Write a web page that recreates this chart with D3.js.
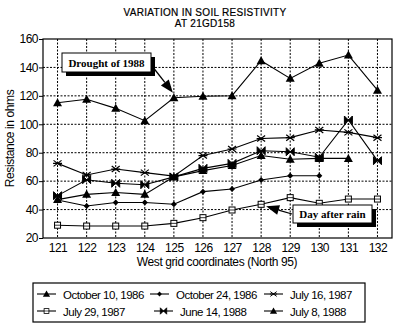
<!DOCTYPE html>
<html>
<head>
<meta charset="utf-8">
<script src="https://cdn.jsdelivr.net/npm/d3@7"></script>
<style>
  body { margin: 0; background: #fff; }
  svg text { font-family: "Liberation Sans", Arial, sans-serif; fill: #000; }
  .grid line { stroke: #000; stroke-width: 1; stroke-dasharray: 2,1.5; }
  .note text { font-family: "Liberation Serif", "Times New Roman", serif; font-weight: bold; font-size: 11px; }
</style>
</head>
<body>
<div id="chart"></div>
<script>
// ---- data ----
const coords = ['121', '122', '123', '124', '125', '126', '127', '128', '129', '130', '131', '132'];
const yTicks = [20, 40, 60, 80, 100, 120, 140, 160];

const oct10_1986 = [47, 50.7, 52, 50.7, 63, 67.4, 71, 78, 75.4, 76, 76];
const oct24_1986 = [46.7, 42.5, 45, 45, 43.7, 52.6, 54.5, 60.8, 63.8, 63.8];
const jul16_1987 = [72.5, 64.3, 68.5, 66, 63.5, 78, 82.6, 90, 90.6, 96, 94.3, 90.6];
const jul29_1987 = [29, 28.4, 28.4, 28.4, 30.3, 34.3, 39.7, 43.7, 48.4, 44.4, 47.4, 47.4];
const jun14_1988 = [49.8, 61, 58.5, 57.5, 63, 69, 72.5, 81.4, 80.7, 76.8, 103, 74.4];
const jul8_1988  = [115.2, 117.6, 111.2, 102.5, 118.7, 119.7, 120.1, 144.7, 132.3, 142.9, 148.7, 124];

const seriesNames = ['October 10, 1986', 'October 24, 1986', 'July 16, 1987',
                     'July 29, 1987', 'June 14, 1988', 'July 8, 1988'];
const seriesValues = [oct10_1986, oct24_1986, jul16_1987, jul29_1987, jun14_1988, jul8_1988];
const seriesMarks = ['triangle', 'dot', 'star', 'square', 'bowtie', 'triangle'];

// ---- layout ----
const W = 400, H = 333;
const margin = { left: 43, right: 8, top: 39, bottom: 95 };

const svg = d3.select('#chart').append('svg')
    .attr('width', W)
    .attr('height', H);

const x = d3.scalePoint()
    .domain(coords)
    .range([margin.left, W - margin.right])
    .padding(0.5);

const y = d3.scaleLinear()
    .domain([20, 160])
    .range([H - margin.bottom, margin.top]);

// title
svg.append('text')
    .attr('x', 205).attr('y', 16)
    .attr('text-anchor', 'middle')
    .style('font-size', '10px')
    .style('letter-spacing', '0.3px')
    .style('stroke', '#000').style('stroke-width', 0.2)
    .text('VARIATION IN SOIL RESISTIVITY');
svg.append('text')
    .attr('x', 205).attr('y', 27)
    .attr('text-anchor', 'middle')
    .style('font-size', '10px')
    .style('letter-spacing', '0.3px')
    .style('stroke', '#000').style('stroke-width', 0.2)
    .text('AT 21GD158');

// grid
const grid = svg.append('g').attr('class', 'grid');
grid.selectAll('.vg')
    .data(coords)
    .enter().append('line')
    .attr('x1', d => x(d)).attr('x2', d => x(d))
    .attr('y1', y(160)).attr('y2', y(20));
grid.selectAll('.hg')
    .data(yTicks.slice(1, -1))
    .enter().append('line')
    .attr('x1', margin.left).attr('x2', W - margin.right)
    .attr('y1', d => y(d)).attr('y2', d => y(d));

// frame
svg.append('rect')
    .attr('x', margin.left).attr('y', margin.top)
    .attr('width', W - margin.right - margin.left)
    .attr('height', y(20) - y(160))
    .attr('fill', 'none')
    .attr('stroke', '#000')
    .attr('stroke-width', 1.2);

// axes
const yAxis = svg.append('g')
    .attr('transform', `translate(${margin.left},0)`)
    .call(d3.axisLeft(y).tickValues(yTicks).tickSize(4).tickPadding(1));
yAxis.select('.domain').remove();
yAxis.selectAll('text').style('font-size', '12px').style('letter-spacing', '-0.5px');

const xAxis = svg.append('g')
    .attr('transform', `translate(0,${y(20)})`)
    .call(d3.axisBottom(x).tickSize(0).tickPadding(5));
xAxis.select('.domain').remove();
xAxis.selectAll('text').style('font-size', '12px').style('letter-spacing', '-0.5px');

svg.append('text')
    .attr('transform', `translate(14,${(y(20) + y(160)) / 2}) rotate(-90)`)
    .attr('text-anchor', 'middle')
    .style('font-size', '12px')
    .style('letter-spacing', '-0.4px')
    .text('Resistance in ohms');

svg.append('text')
    .attr('x', 217).attr('y', 266)
    .attr('text-anchor', 'middle')
    .style('font-size', '12px')
    .style('letter-spacing', '-0.4px')
    .text('West grid coordinates (North 95)');

// markers
function drawMark(g, kind) {
    if (kind === 'triangle') {
        g.append('path').attr('d', 'M0,-4.5L4.5,3.5L-4.5,3.5Z').attr('fill', '#000');
    } else if (kind === 'dot') {
        g.append('path').attr('d', 'M0,-3L3,0L0,3L-3,0Z').attr('fill', '#000');
    } else if (kind === 'star') {
        g.append('path').attr('d', 'M-4,-3L4,3M-4,3L4,-3M-4.5,0L4.5,0')
            .attr('stroke', '#000').attr('stroke-width', 1.2).attr('fill', 'none');
    } else if (kind === 'square') {
        g.append('rect').attr('x', -3).attr('y', -3).attr('width', 6).attr('height', 6)
            .attr('fill', '#fff').attr('stroke', '#000').attr('stroke-width', 1);
        g.append('line').attr('x1', -3).attr('x2', 3).attr('y1', 0).attr('y2', 0)
            .attr('stroke', '#000').attr('stroke-width', 0.8);
    } else if (kind === 'bowtie') {
        g.append('path').attr('d', 'M-4,-4L4,4L4,-4L-4,4Z')
            .attr('fill', '#000').attr('stroke', '#000').attr('stroke-width', 1);
    }
}

const line = d3.line()
    .x((d, i) => x(coords[i]))
    .y(d => y(d));

seriesValues.forEach((vals, si) => {
    svg.append('path')
        .attr('d', line(vals))
        .attr('fill', 'none')
        .attr('stroke', '#000')
        .attr('stroke-width', 1.1);
    vals.forEach((v, i) => {
        const g = svg.append('g').attr('transform', `translate(${x(coords[i])},${y(v)})`);
        drawMark(g, seriesMarks[si]);
    });
});

// annotations
function note(bx, by, bw, bh, label, tail, tip) {
    const g = svg.append('g').attr('class', 'note');
    // arrow
    const ang = Math.atan2(tip[1] - tail[1], tip[0] - tail[0]);
    const hl = 13, hw = 5;
    const bxp = tip[0] - hl * Math.cos(ang), byp = tip[1] - hl * Math.sin(ang);
    g.append('line')
        .attr('x1', tail[0]).attr('y1', tail[1])
        .attr('x2', bxp).attr('y2', byp)
        .attr('stroke', '#000').attr('stroke-width', 1.3);
    g.append('path')
        .attr('d', `M${tip[0]},${tip[1]}L${bxp + hw * Math.sin(ang)},${byp - hw * Math.cos(ang)}L${bxp - hw * Math.sin(ang)},${byp + hw * Math.cos(ang)}Z`)
        .attr('fill', '#000');
    g.append('rect')
        .attr('x', bx + 4).attr('y', by + 4).attr('width', bw).attr('height', bh)
        .attr('fill', '#000');
    g.append('rect')
        .attr('x', bx).attr('y', by).attr('width', bw).attr('height', bh)
        .attr('fill', '#fff').attr('stroke', '#000').attr('stroke-width', 1);
    g.append('text')
        .attr('x', bx + bw / 2).attr('y', by + bh / 2 + 4)
        .attr('text-anchor', 'middle')
        .text(label);
}

note(62, 53, 89, 19, 'Drought of 1988', [152, 66], [x('125') - 1, y(jul8_1988[4]) - 5]);
note(293, 205, 79, 18, 'Day after rain', [292, 214], [x('128') + 5, y(jul29_1987[7]) + 2]);

// legend
const legend = svg.append('g');
legend.append('rect')
    .attr('x', 33).attr('y', 283).attr('width', 332).attr('height', 39)
    .attr('fill', '#fff').attr('stroke', '#000').attr('stroke-width', 1.2);

const legCols = [37, 150, 264];
seriesNames.forEach((name, i) => {
    const cx = legCols[i % 3] + (i === 4 ? 4 : 0);
    const cy = i < 3 ? 294 : 311;
    const g = legend.append('g');
    g.append('line')
        .attr('x1', cx).attr('x2', cx + 19)
        .attr('y1', cy).attr('y2', cy)
        .attr('stroke', '#000').attr('stroke-width', 1.1);
    const m = g.append('g').attr('transform', `translate(${cx + 9.5},${cy}) scale(0.8)`);
    drawMark(m, seriesMarks[i]);
    g.append('text')
        .attr('x', cx + 26).attr('y', cy + 4.5)
        .style('font-size', '11.5px')
        .style('letter-spacing', '-0.5px')
        .text(name);
});
</script>
</body>
</html>
